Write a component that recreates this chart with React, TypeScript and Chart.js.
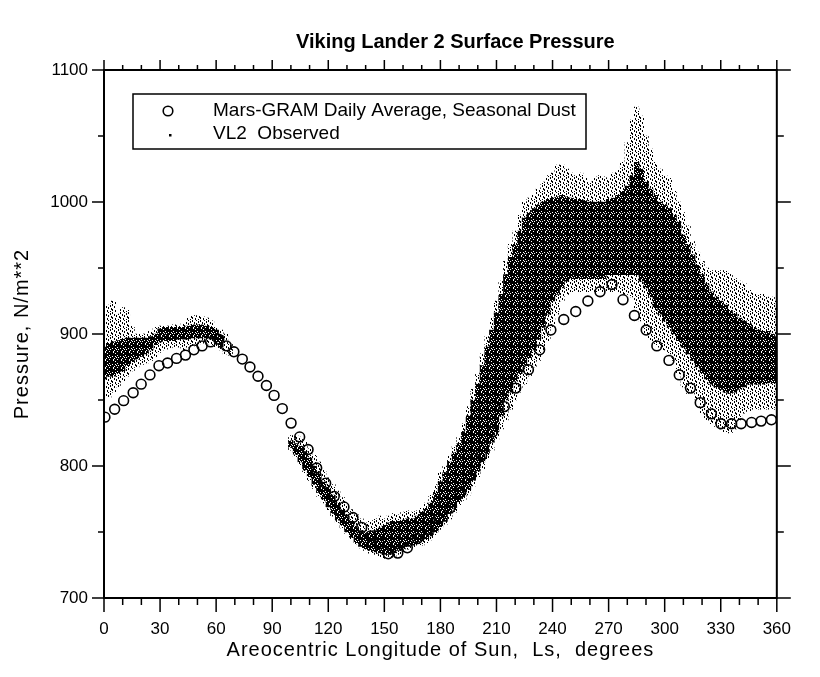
import React, { useEffect, useRef } from "react";
import { Chart, registerables } from "chart.js";

Chart.register(...registerables);

const TITLE = "Viking Lander 2 Surface Pressure";
const X_TITLE = "Areocentric Longitude of Sun,  Ls,  degrees";
const Y_TITLE = "Pressure, N/m**2";
const MODEL_LABEL = "Mars-GRAM Daily Average, Seasonal Dust";
const OBS_LABEL = "VL2  Observed";

const X_MAJOR = [0, 30, 60, 90, 120, 150, 180, 210, 240, 270, 300, 330, 360];
const X_MINOR = [10, 20, 40, 50, 70, 80, 100, 110, 130, 140, 160, 170, 190, 200, 220, 230, 250, 260, 280, 290, 310, 320, 340, 350];
const Y_MAJOR = [700, 800, 900, 1000, 1100];
const Y_MINOR = [750, 850, 950, 1050];

// Mars-GRAM daily average (open circles)
const modelLs = [0.5, 5.7, 10.5, 15.6, 19.9, 24.6, 29.4, 34.0, 38.8, 43.6, 48.1, 52.5, 57.0, 61.4, 65.4, 69.5, 74.0, 78.1, 82.4, 86.9, 91.0, 95.4, 100.1, 104.7, 109.2, 113.8, 118.6, 123.2, 128.4, 133.2, 137.9, 142.6, 147.3, 152.1, 157.2, 162.3, 167.6, 173.5, 179.2, 185.0, 190.6, 196.3, 202.0, 208.0, 214.2, 220.3, 227.1, 233.1, 239.1, 246.0, 252.4, 258.9, 265.4, 271.8, 277.7, 283.8, 290.1, 295.8, 302.3, 307.8, 313.8, 319.0, 325.0, 330.1, 335.8, 340.9, 346.5, 351.6, 357.1];
const modelP = [837, 843, 849.5, 855.5, 862, 869, 876, 878, 881.5, 884, 888, 891, 894, 896, 891, 886.5, 881, 875, 868, 861, 853.5, 843.5, 832.5, 822, 812.5, 798.5, 787, 777, 769, 761, 753.5, 747, 741, 733.5, 734, 738, 745, 752, 760, 768, 780, 793, 808, 826, 845, 859, 873, 888, 903, 911, 917, 925, 932, 937.5, 926, 914, 903, 891, 880, 869, 859, 848, 839.5, 832, 832, 832, 833, 834, 835];

// VL2 observed: spread of the observations per Ls bin (outer = sparse fringe, core = dense body)
const obsLs = [
  0, 2.5, 5, 7.5, 10, 12.5, 15, 17.5, 20, 22.5, 25, 27.5, 30, 32.5, 35, 37.5, 40, 42.5, 45, 47.5, 50, 52.5, 55, 57.5, 60, 62.5, 65, 67.5,
  100, 102.5, 105, 107.5, 110, 112.5, 115, 117.5, 120, 122.5, 125, 127.5, 130, 132.5, 135, 137.5, 140, 142.5, 145, 147.5, 150, 152.5, 155, 157.5, 160, 162.5, 165, 167.5, 170, 172.5, 175, 177.5,
  180, 182.5, 185, 187.5, 190, 192.5, 195, 197.5, 200, 202.5, 205, 207.5, 210, 212.5, 215, 217.5, 220, 222.5, 225, 227.5, 230, 232.5, 235, 237.5, 240, 242.5, 245, 247.5, 250, 252.5, 255, 257.5,
  260, 262.5, 265, 267.5, 270, 272.5, 275, 277.5, 280, 282.5, 285, 287.5, 290, 292.5, 295, 297.5, 300, 302.5, 305, 307.5, 310, 312.5, 315, 317.5, 320, 322.5, 325, 327.5, 330, 332.5, 335, 337.5,
  340, 342.5, 345, 347.5, 350, 352.5, 355, 357.5, 360,
];
const obsLow = [
  856, 852, 856, 860, 864, 868, 872, 875, 877, 878, 880, 882, 886, 888, 889, 890, 890, 888, 890, 891, 892, 893, 893, 892, 890, 888, 885, 884,
  812, 807, 801, 795, 789, 783, 777, 772, 767, 762, 757, 753, 749, 745, 741, 738, 736, 734, 733, 731, 730, 730, 731, 733, 735, 737, 738, 740, 740, 742, 744, 748,
  752, 756, 760, 765, 770, 774, 778, 785, 792, 798, 805, 812, 820, 828, 835, 843, 850, 856, 862, 868, 875, 880, 888, 895, 905, 915, 925, 930, 932, 932, 932, 932,
  932, 932, 932, 932, 932, 932, 932, 930, 930, 928, 920, 910, 900, 895, 892, 890, 888, 885, 880, 870, 860, 855, 855, 850, 840, 835, 832, 830, 828, 826, 825, 828,
  835, 840, 842, 843, 843, 843, 843, 843, 843,
];
const obsHigh = [
  898, 922, 925, 915, 920, 918, 906, 900, 900, 900, 902, 905, 906, 906, 906, 907, 906, 908, 912, 914, 914, 913, 912, 910, 905, 903, 900, 893,
  823, 823, 822, 818, 813, 808, 803, 797, 791, 786, 781, 776, 771, 767, 763, 760, 757, 758, 760, 762, 760, 762, 764, 763, 765, 766, 765, 766, 768, 772, 778, 786,
  795, 800, 808, 815, 822, 832, 845, 858, 870, 885, 898, 912, 925, 940, 955, 968, 978, 990, 1000, 1003, 1005, 1010, 1015, 1020, 1022, 1028, 1028, 1025, 1022, 1020, 1022, 1018,
  1015, 1018, 1020, 1019, 1018, 1022, 1024, 1030, 1045, 1062, 1072, 1065, 1050, 1040, 1030, 1025, 1020, 1018, 1008, 1000, 992, 982, 970, 962, 955, 950, 948, 948, 948, 948, 946, 942,
  940, 938, 933, 931, 930, 930, 928, 928, 925,
];
const coreLow = [
  866, 868, 868, 870, 872, 876, 879, 881, 883, 885, 888, 892, 894, 895, 895, 895, 896, 896, 896, 897, 897, 897, 897, 896, 894, 890, null, null,
  814, 809, 803, 797, 792, 786, 780, 775, 769, 764, 759, 755, 750, 746, 742, 739, 737, 736, 735, 734, 733, 733, 734, 736, 737, 739, 740, 742, 743, 745, 747, 750,
  754, 758, 764, 768, 773, 777, 782, 789, 796, 803, 810, 818, 826, 838, 850, 856, 864, 870, 876, 882, 888, 896, 905, 915, 925, 930, 935, 940, 942, 942, 942, 942,
  942, 942, 942, 942, 945, 945, 945, 945, 945, 945, 945, 940, 935, 928, 920, 915, 910, 905, 900, 895, 890, 885, 880, 875, 870, 866, 862, 860, 858, 856, 855, 856,
  858, 860, 862, 862, 862, 862, 863, 863, 863,
];
const coreHigh = [
  890, 893, 894, 895, 896, 897, 897, 897, 897, 897, 898, 900, 904, 905, 905, 905, 905, 905, 906, 907, 907, 907, 906, 905, 903, 899, null, null,
  819, 817, 815, 811, 806, 800, 794, 788, 783, 778, 772, 767, 763, 758, 754, 751, 749, 750, 751, 753, 755, 757, 758, 758, 759, 760, 760, 762, 765, 768, 772, 780,
  788, 795, 803, 810, 817, 826, 838, 850, 862, 876, 890, 903, 916, 930, 945, 958, 968, 978, 988, 992, 995, 998, 1000, 1002, 1003, 1004, 1005, 1004, 1003, 1002, 1002, 1001,
  1000, 1000, 1000, 1000, 1002, 1003, 1005, 1008, 1012, 1020, 1030, 1025, 1015, 1010, 1005, 1000, 998, 995, 990, 985, 975, 968, 960, 952, 945, 938, 932, 928, 925, 922, 918, 915,
  912, 910, 908, 905, 903, 902, 902, 900, 898,
];

const CORE_TILE = [
  "#.##.###",
  "###.####",
  "##.###.#",
  "#####.##",
  ".##.####",
  "####.#.#",
  "##.#####",
  "#.###.##",
];
const FRINGE_TILE = [
  "#...#...",
  "#.....#.",
  "..#...#.",
  "..#.#...",
  "....#..#",
  "#......#",
  "#..#....",
  "...#..#.",
];

const FONT = "'Liberation Sans', Arial, Helvetica, sans-serif";

function makePattern(rows: string[]): CanvasPattern | string {
  const c = document.createElement("canvas");
  c.width = rows[0].length;
  c.height = rows.length;
  const g = c.getContext("2d");
  if (!g) return "#000";
  g.fillStyle = "#000";
  rows.forEach((r, y) => {
    for (let x = 0; x < r.length; x++) if (r[x] === "#") g.fillRect(x, y, 1, 1);
  });
  const p = g.createPattern(c, "repeat");
  return p || "#000";
}

const decorPlugin = {
  id: "decor",
  afterDatasetsDraw(chart: any) {
    const { ctx, chartArea: a, scales } = chart;
    const xs = scales.x;
    const ys = scales.y;
    ctx.save();
    ctx.strokeStyle = "#000";
    ctx.lineWidth = 2;
    ctx.strokeRect(a.left, a.top, a.right - a.left, a.bottom - a.top);
    ctx.lineWidth = 1.5;
    ctx.beginPath();
    const xt = (vals: number[], bot: number, top: number) => {
      vals.forEach((v) => {
        const px = xs.getPixelForValue(v);
        ctx.moveTo(px, a.bottom);
        ctx.lineTo(px, a.bottom + bot);
        ctx.moveTo(px, a.top);
        ctx.lineTo(px, a.top - top);
      });
    };
    const yt = (vals: number[], l: number, r: number) => {
      vals.forEach((v) => {
        const py = ys.getPixelForValue(v);
        ctx.moveTo(a.left, py);
        ctx.lineTo(a.left - l, py);
        ctx.moveTo(a.right, py);
        ctx.lineTo(a.right + r, py);
      });
    };
    xt(X_MAJOR, 14, 10);
    xt(X_MINOR, 7, 5);
    yt(Y_MAJOR, 12, 14);
    yt(Y_MINOR, 6, 7);
    ctx.stroke();
    ctx.restore();
  },
  afterDraw(chart: any) {
    const { ctx, chartArea: a } = chart;
    ctx.save();
    ctx.fillStyle = "#000";
    ctx.textAlign = "center";
    ctx.textBaseline = "middle";
    ctx.font = `bold 20px ${FONT}`;
    ctx.fillText(TITLE, (a.left + a.right) / 2 + 15, a.top - 28);

    // axis titles
    ctx.font = `20px ${FONT}`;
    (ctx as any).letterSpacing = "1px";
    ctx.fillText(X_TITLE, (a.left + a.right) / 2, a.bottom + 52);
    ctx.save();
    ctx.translate(14, (a.top + a.bottom) / 2);
    ctx.rotate(-Math.PI / 2);
    ctx.fillText(Y_TITLE, 0, 0);
    ctx.restore();
    (ctx as any).letterSpacing = "0px";

    // legend box
    const bx = a.left + 29;
    const by = a.top + 24;
    ctx.fillStyle = "#fff";
    ctx.fillRect(bx, by, 453, 55);
    ctx.strokeStyle = "#000";
    ctx.lineWidth = 1.5;
    ctx.strokeRect(bx, by, 453, 55);
    const ds = chart.data.datasets;
    ctx.fillStyle = "#000";
    ctx.textAlign = "left";
    ctx.font = `19px ${FONT}`;
    ctx.fillText(ds[0].label, a.left + 109, a.top + 41);
    ctx.fillText(ds[1].label, a.left + 109, a.top + 64);
    ctx.beginPath();
    ctx.lineWidth = 1.6;
    ctx.arc(a.left + 64, a.top + 41, 4.8, 0, Math.PI * 2);
    ctx.stroke();
    ctx.fillRect(a.left + 65, a.top + 64, 2.5, 2.5);
    ctx.restore();
  },
};

export default function App() {
  const ref = useRef<HTMLCanvasElement | null>(null);
  useEffect(() => {
    if (!ref.current) return;
    const corePat = makePattern(CORE_TILE);
    const fringePat = makePattern(FRINGE_TILE);
    const coreData: any[] = [];
    const fringeData: any[] = [];
    obsLs.forEach((x, i) => {
      fringeData.push({ x, y: [obsLow[i], obsHigh[i]] });
      if (coreLow[i] != null && coreHigh[i] != null) coreData.push({ x, y: [coreLow[i], coreHigh[i]] });
    });
    const barCommon = {
      type: "bar" as const,
      grouped: false,
      barPercentage: 1,
      categoryPercentage: 1,
      borderWidth: 0,
    };
    const chart = new Chart(ref.current, {
      type: "scatter",
      data: {
        datasets: [
          {
            type: "scatter",
            label: MODEL_LABEL,
            data: modelLs.map((x, i) => ({ x, y: modelP[i] })),
            pointStyle: "circle",
            pointRadius: 4.9,
            borderWidth: 1.6,
            borderColor: "#000",
            backgroundColor: "rgba(255,255,255,0)",
            order: 3,
          } as any,
          { ...barCommon, label: OBS_LABEL, data: coreData, backgroundColor: corePat, order: 1 } as any,
          { ...barCommon, label: OBS_LABEL, data: fringeData, backgroundColor: fringePat, order: 2 } as any,
        ],
      },
      options: {
        animation: false,
        responsive: true,
        maintainAspectRatio: false,
        events: [],
        layout: { padding: { top: 62, right: 9, left: 0, bottom: 0 } },
        plugins: {
          legend: { display: false },
          title: { display: false },
          tooltip: { enabled: false },
        },
        scales: {
          x: {
            type: "linear",
            min: 0,
            max: 360,
            offset: false,
            grid: { display: false, drawTicks: false },
            border: { display: false },
            ticks: {
              stepSize: 30,
              color: "#000",
              font: { family: FONT, size: 17 },
              padding: 21,
              maxRotation: 0,
              autoSkip: false,
              callback: (v: any) => String(v),
            },
            afterFit: (s: any) => {
              s.height = 71;
            },
          },
          y: {
            type: "linear",
            min: 700,
            max: 1100,
            grid: { display: false, drawTicks: false },
            border: { display: false },
            ticks: {
              stepSize: 100,
              color: "#000",
              font: { family: FONT, size: 17 },
              padding: 16,
              callback: (v: any) => String(v),
            },
            afterFit: (s: any) => {
              s.width = 96;
            },
          },
        },
      },
      plugins: [decorPlugin],
    });
    return () => chart.destroy();
  }, []);
  return (
    <div style={{ width: 804, height: 661, position: "relative" }}>
      <canvas ref={ref} style={{ display: "block" }} />
    </div>
  );
}
